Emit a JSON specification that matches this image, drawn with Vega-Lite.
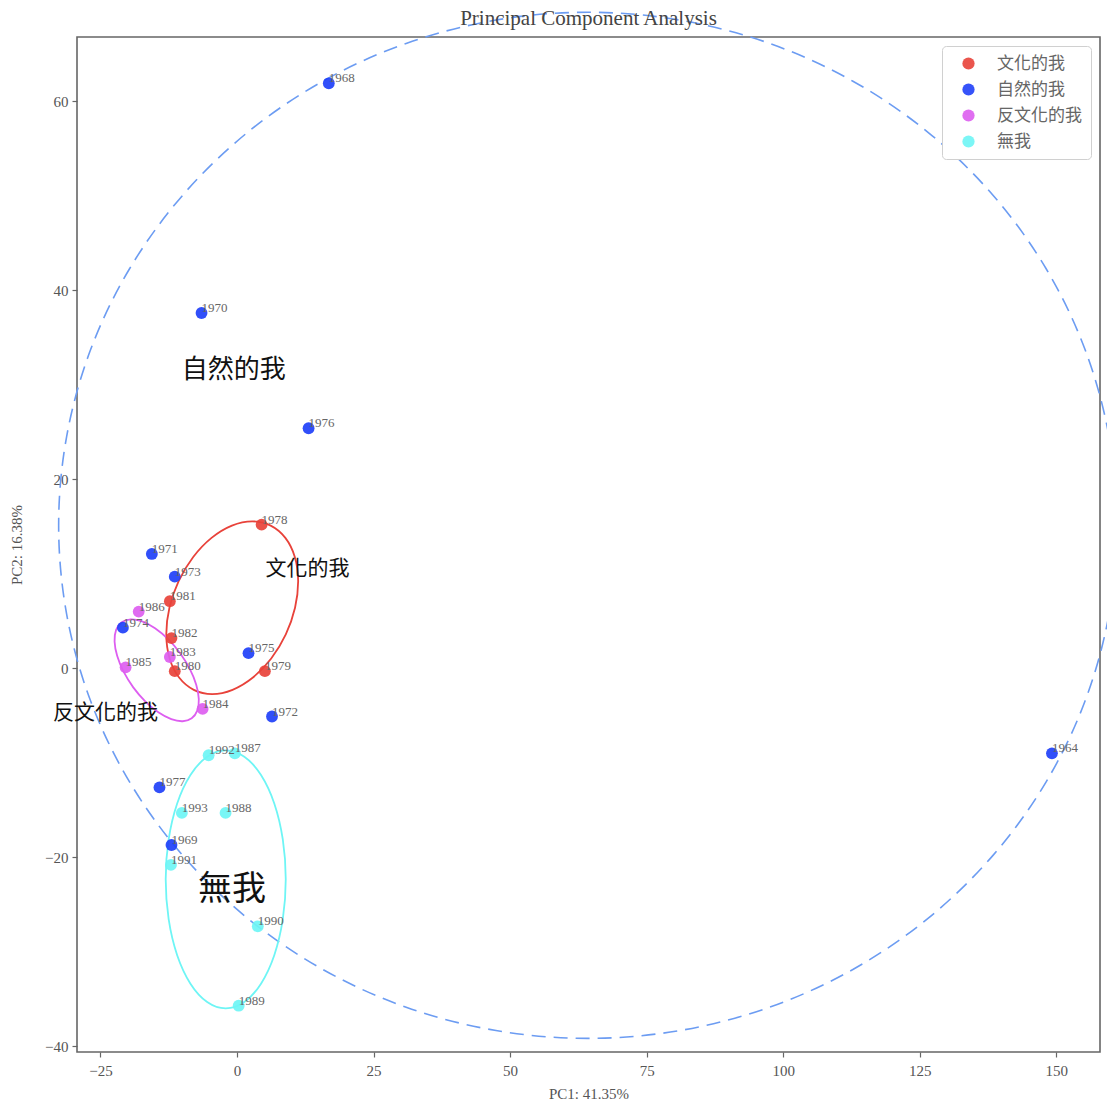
{
  "$schema": "https://vega.github.io/schema/vega-lite/v6.json",
  "autosize": {"type": "none"},
  "width": 1023,
  "height": 1015,
  "padding": {"left": 77, "top": 37, "right": 7, "bottom": 54},
  "background": "white",
  "title": {"text": "Principal Component Analysis", "font": "Liberation Serif", "fontSize": 21, "fontWeight": "normal", "color": "#444", "offset": -20},
  "config": {
    "view": {"stroke": "#666", "strokeWidth": 1.6},
    "axis": {"grid": false, "domain": false, "labelFont": "Liberation Serif", "labelFontSize": 15, "labelColor": "#555", "titleFont": "Liberation Serif", "titleFontSize": 15, "titleFontWeight": "normal", "titleColor": "#555", "tickColor": "#666", "tickSize": 5, "tickWidth": 1.2},
    "legend": {"orient": "top-right", "offset": 9, "padding": 9, "strokeColor": "#d0d0d0", "fillColor": "white", "cornerRadius": 4, "symbolType": "circle", "symbolSize": 150, "symbolOffset": 9, "symbolStrokeWidth": 0, "symbolOpacity": 0.9, "labelFont": "Noto Sans CJK TC", "labelFontSize": 17, "labelColor": "#666", "labelOffset": 20, "rowPadding": 8}
  },
  "datasets": {
    "points": [
      {"year": "1964", "pc1": 149.2, "pc2": -9.0, "group": "自然的我"},
      {"year": "1968", "pc1": 16.8, "pc2": 61.9, "group": "自然的我"},
      {"year": "1969", "pc1": -12.0, "pc2": -18.7, "group": "自然的我"},
      {"year": "1970", "pc1": -6.5, "pc2": 37.6, "group": "自然的我"},
      {"year": "1971", "pc1": -15.6, "pc2": 12.1, "group": "自然的我"},
      {"year": "1972", "pc1": 6.4, "pc2": -5.1, "group": "自然的我"},
      {"year": "1973", "pc1": -11.4, "pc2": 9.7, "group": "自然的我"},
      {"year": "1974", "pc1": -20.9, "pc2": 4.3, "group": "自然的我"},
      {"year": "1975", "pc1": 2.1, "pc2": 1.6, "group": "自然的我"},
      {"year": "1976", "pc1": 13.1, "pc2": 25.4, "group": "自然的我"},
      {"year": "1977", "pc1": -14.2, "pc2": -12.6, "group": "自然的我"},
      {"year": "1978", "pc1": 4.5, "pc2": 15.2, "group": "文化的我"},
      {"year": "1979", "pc1": 5.1, "pc2": -0.3, "group": "文化的我"},
      {"year": "1980", "pc1": -11.4, "pc2": -0.3, "group": "文化的我"},
      {"year": "1981", "pc1": -12.3, "pc2": 7.1, "group": "文化的我"},
      {"year": "1982", "pc1": -12.0, "pc2": 3.2, "group": "文化的我"},
      {"year": "1983", "pc1": -12.3, "pc2": 1.2, "group": "反文化的我"},
      {"year": "1984", "pc1": -6.3, "pc2": -4.3, "group": "反文化的我"},
      {"year": "1985", "pc1": -20.4, "pc2": 0.1, "group": "反文化的我"},
      {"year": "1986", "pc1": -18.0, "pc2": 6.0, "group": "反文化的我"},
      {"year": "1987", "pc1": -0.4, "pc2": -9.0, "group": "無我"},
      {"year": "1988", "pc1": -2.1, "pc2": -15.3, "group": "無我"},
      {"year": "1989", "pc1": 0.3, "pc2": -35.7, "group": "無我"},
      {"year": "1990", "pc1": 3.8, "pc2": -27.3, "group": "無我"},
      {"year": "1991", "pc1": -12.1, "pc2": -20.8, "group": "無我"},
      {"year": "1992", "pc1": -5.2, "pc2": -9.2, "group": "無我"},
      {"year": "1993", "pc1": -10.1, "pc2": -15.3, "group": "無我"}
    ],
    "ellipses": [
      {"group": "文化的我", "i": 0, "pc1": 2.79, "pc2": 15.55},
      {"group": "文化的我", "i": 1, "pc1": 6.16, "pc2": 15.10},
      {"group": "文化的我", "i": 2, "pc1": 8.85, "pc2": 13.80},
      {"group": "文化的我", "i": 3, "pc1": 10.58, "pc2": 11.78},
      {"group": "文化的我", "i": 4, "pc1": 11.19, "pc2": 9.23},
      {"group": "文化的我", "i": 5, "pc1": 10.62, "pc2": 6.41},
      {"group": "文化的我", "i": 6, "pc1": 8.93, "pc2": 3.59},
      {"group": "文化的我", "i": 7, "pc1": 6.26, "pc2": 1.04},
      {"group": "文化的我", "i": 8, "pc1": 2.91, "pc2": -0.98},
      {"group": "文化的我", "i": 9, "pc1": -0.82, "pc2": -2.28},
      {"group": "文化的我", "i": 10, "pc1": -4.55, "pc2": -2.73},
      {"group": "文化的我", "i": 11, "pc1": -7.92, "pc2": -2.28},
      {"group": "文化的我", "i": 12, "pc1": -10.61, "pc2": -0.98},
      {"group": "文化的我", "i": 13, "pc1": -12.34, "pc2": 1.04},
      {"group": "文化的我", "i": 14, "pc1": -12.95, "pc2": 3.59},
      {"group": "文化的我", "i": 15, "pc1": -12.38, "pc2": 6.41},
      {"group": "文化的我", "i": 16, "pc1": -10.69, "pc2": 9.23},
      {"group": "文化的我", "i": 17, "pc1": -8.02, "pc2": 11.78},
      {"group": "文化的我", "i": 18, "pc1": -4.67, "pc2": 13.80},
      {"group": "文化的我", "i": 19, "pc1": -0.94, "pc2": 15.10},
      {"group": "反文化的我", "i": 0, "pc1": -8.30, "pc2": -5.29},
      {"group": "反文化的我", "i": 1, "pc1": -7.28, "pc2": -4.48},
      {"group": "反文化的我", "i": 2, "pc1": -7.00, "pc2": -3.26},
      {"group": "反文化的我", "i": 3, "pc1": -7.47, "pc2": -1.74},
      {"group": "反文化的我", "i": 4, "pc1": -8.65, "pc2": -0.06},
      {"group": "反文化的我", "i": 5, "pc1": -10.42, "pc2": 1.60},
      {"group": "反文化的我", "i": 6, "pc1": -12.61, "pc2": 3.08},
      {"group": "反文化的我", "i": 7, "pc1": -15.01, "pc2": 4.24},
      {"group": "反文化的我", "i": 8, "pc1": -17.38, "pc2": 4.96},
      {"group": "反文化的我", "i": 9, "pc1": -19.48, "pc2": 5.18},
      {"group": "反文化的我", "i": 10, "pc1": -21.12, "pc2": 4.87},
      {"group": "反文化的我", "i": 11, "pc1": -22.14, "pc2": 4.06},
      {"group": "反文化的我", "i": 12, "pc1": -22.42, "pc2": 2.84},
      {"group": "反文化的我", "i": 13, "pc1": -21.95, "pc2": 1.32},
      {"group": "反文化的我", "i": 14, "pc1": -20.77, "pc2": -0.36},
      {"group": "反文化的我", "i": 15, "pc1": -19.00, "pc2": -2.02},
      {"group": "反文化的我", "i": 16, "pc1": -16.81, "pc2": -3.50},
      {"group": "反文化的我", "i": 17, "pc1": -14.41, "pc2": -4.66},
      {"group": "反文化的我", "i": 18, "pc1": -12.04, "pc2": -5.38},
      {"group": "反文化的我", "i": 19, "pc1": -9.94, "pc2": -5.60},
      {"group": "無我", "i": 0, "pc1": -2.07, "pc2": -8.68},
      {"group": "無我", "i": 1, "pc1": 1.33, "pc2": -9.35},
      {"group": "無我", "i": 2, "pc1": 4.39, "pc2": -11.29},
      {"group": "無我", "i": 3, "pc1": 6.82, "pc2": -14.30},
      {"group": "無我", "i": 4, "pc1": 8.38, "pc2": -18.11},
      {"group": "無我", "i": 5, "pc1": 8.92, "pc2": -22.33},
      {"group": "無我", "i": 6, "pc1": 8.38, "pc2": -26.55},
      {"group": "無我", "i": 7, "pc1": 6.82, "pc2": -30.36},
      {"group": "無我", "i": 8, "pc1": 4.39, "pc2": -33.37},
      {"group": "無我", "i": 9, "pc1": 1.33, "pc2": -35.31},
      {"group": "無我", "i": 10, "pc1": -2.07, "pc2": -35.98},
      {"group": "無我", "i": 11, "pc1": -5.47, "pc2": -35.31},
      {"group": "無我", "i": 12, "pc1": -8.53, "pc2": -33.37},
      {"group": "無我", "i": 13, "pc1": -10.96, "pc2": -30.36},
      {"group": "無我", "i": 14, "pc1": -12.52, "pc2": -26.55},
      {"group": "無我", "i": 15, "pc1": -13.06, "pc2": -22.33},
      {"group": "無我", "i": 16, "pc1": -12.52, "pc2": -18.11},
      {"group": "無我", "i": 17, "pc1": -10.96, "pc2": -14.30},
      {"group": "無我", "i": 18, "pc1": -8.53, "pc2": -11.29},
      {"group": "無我", "i": 19, "pc1": -5.47, "pc2": -9.35}
    ],
    "circle": [
      {"i": 0, "pc1": 161.12, "pc2": 15.13},
      {"i": 1, "pc1": 159.65, "pc2": 24.55},
      {"i": 2, "pc1": 155.28, "pc2": 33.70},
      {"i": 3, "pc1": 148.14, "pc2": 42.28},
      {"i": 4, "pc1": 138.45, "pc2": 50.03},
      {"i": 5, "pc1": 126.51, "pc2": 56.72},
      {"i": 6, "pc1": 112.68, "pc2": 62.15},
      {"i": 7, "pc1": 97.37, "pc2": 66.15},
      {"i": 8, "pc1": 81.05, "pc2": 68.59},
      {"i": 9, "pc1": 64.23, "pc2": 69.42},
      {"i": 10, "pc1": 47.41, "pc2": 68.59},
      {"i": 11, "pc1": 31.09, "pc2": 66.15},
      {"i": 12, "pc1": 15.78, "pc2": 62.15},
      {"i": 13, "pc1": 1.95, "pc2": 56.72},
      {"i": 14, "pc1": -9.99, "pc2": 50.03},
      {"i": 15, "pc1": -19.68, "pc2": 42.28},
      {"i": 16, "pc1": -26.82, "pc2": 33.70},
      {"i": 17, "pc1": -31.19, "pc2": 24.55},
      {"i": 18, "pc1": -32.66, "pc2": 15.13},
      {"i": 19, "pc1": -31.19, "pc2": 5.71},
      {"i": 20, "pc1": -26.82, "pc2": -3.44},
      {"i": 21, "pc1": -19.68, "pc2": -12.02},
      {"i": 22, "pc1": -9.99, "pc2": -19.77},
      {"i": 23, "pc1": 1.95, "pc2": -26.46},
      {"i": 24, "pc1": 15.78, "pc2": -31.89},
      {"i": 25, "pc1": 31.09, "pc2": -35.89},
      {"i": 26, "pc1": 47.41, "pc2": -38.33},
      {"i": 27, "pc1": 64.23, "pc2": -39.16},
      {"i": 28, "pc1": 81.05, "pc2": -38.33},
      {"i": 29, "pc1": 97.37, "pc2": -35.89},
      {"i": 30, "pc1": 112.68, "pc2": -31.89},
      {"i": 31, "pc1": 126.51, "pc2": -26.46},
      {"i": 32, "pc1": 138.45, "pc2": -19.77},
      {"i": 33, "pc1": 148.14, "pc2": -12.02},
      {"i": 34, "pc1": 155.28, "pc2": -3.44},
      {"i": 35, "pc1": 159.65, "pc2": 5.71}
    ],
    "notes": [
      {"note": "自然的我", "pc1": -0.6, "pc2": 31.6},
      {"note": "文化的我", "pc1": 12.9, "pc2": 10.5},
      {"note": "反文化的我", "pc1": -24.1, "pc2": -4.7},
      {"note": "無我", "pc1": -0.9, "pc2": -23.5}
    ]
  },
  "encoding": {
    "x": {"field": "pc1", "type": "quantitative", "scale": {"domain": [-29.3, 158.0], "nice": false, "zero": false}, "axis": {"title": "PC1: 41.35%", "values": [-25, 0, 25, 50, 75, 100, 125, 150], "labelPadding": 6, "titlePadding": 8}},
    "y": {"field": "pc2", "type": "quantitative", "scale": {"domain": [-40.6, 66.8], "nice": false, "zero": false}, "axis": {"title": "PC2: 16.38%", "values": [-40, -20, 0, 20, 40, 60], "labelPadding": 4, "titlePadding": 20}}
  },
  "layer": [
    {
      "data": {"name": "circle"},
      "mark": {"type": "line", "interpolate": "cardinal-closed", "clip": false, "stroke": "#6c9cf2", "strokeWidth": 1.6, "strokeDash": [14, 8]},
      "encoding": {"order": {"field": "i", "type": "quantitative"}}
    },
    {
      "data": {"name": "ellipses"},
      "mark": {"type": "line", "interpolate": "cardinal-closed", "clip": false, "strokeWidth": 1.8},
      "encoding": {
        "order": {"field": "i", "type": "quantitative"},
        "stroke": {"field": "group", "type": "nominal", "scale": {"domain": ["文化的我", "反文化的我", "無我"], "range": ["#e8423a", "#dd5ef0", "#6ef5f5"]}, "legend": null}
      }
    },
    {
      "data": {"name": "points"},
      "mark": {"type": "circle", "size": 140, "opacity": 0.92, "clip": false},
      "encoding": {
        "color": {"field": "group", "type": "nominal", "scale": {"domain": ["文化的我", "自然的我", "反文化的我", "無我"], "range": ["#e8423a", "#2040f8", "#dd5ef0", "#6ef5f5"]}, "legend": {"title": null}}
      }
    },
    {
      "data": {"name": "points"},
      "mark": {"type": "text", "align": "left", "baseline": "alphabetic", "dx": 0, "dy": -1, "font": "Liberation Serif", "fontSize": 13, "color": "#666", "clip": false},
      "encoding": {"text": {"field": "year", "type": "nominal"}}
    },
    {
      "data": {"name": "notes"},
      "transform": [{"filter": "datum.note === '自然的我'"}],
      "mark": {"type": "text", "align": "center", "baseline": "middle", "font": "Noto Sans CJK TC", "fontSize": 26, "color": "#111", "clip": false},
      "encoding": {"text": {"field": "note", "type": "nominal"}}
    },
    {
      "data": {"name": "notes"},
      "transform": [{"filter": "datum.note === '文化的我' || datum.note === '反文化的我'"}],
      "mark": {"type": "text", "align": "center", "baseline": "middle", "font": "Noto Sans CJK TC", "fontSize": 21, "color": "#111", "clip": false},
      "encoding": {"text": {"field": "note", "type": "nominal"}}
    },
    {
      "data": {"name": "notes"},
      "transform": [{"filter": "datum.note === '無我'"}],
      "mark": {"type": "text", "align": "center", "baseline": "middle", "font": "Noto Sans CJK TC", "fontSize": 34, "color": "#111", "clip": false},
      "encoding": {"text": {"field": "note", "type": "nominal"}}
    }
  ]
}
